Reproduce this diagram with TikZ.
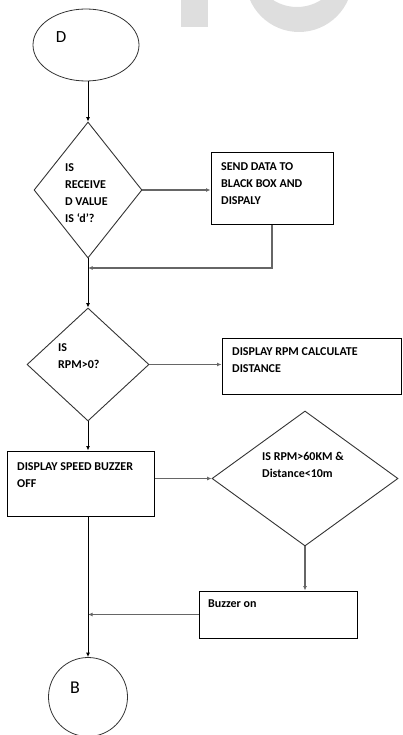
\documentclass[tikz,border=0pt]{standalone}
\usepackage{fontspec}
\setmainfont{Carlito}
\usetikzlibrary{arrows.meta,shapes.geometric}

\begin{document}
\begin{tikzpicture}[x=1pt,y=-1pt,>={Latex[length=4.5pt,width=4pt]},
  decision/.style={draw=black!80,diamond,inner sep=0pt,line width=0.9pt},
  procbox/.style={draw=black,line width=1pt,inner sep=0pt},
  txt/.style={anchor=north west,inner sep=0pt,align=left,font=\fontsize{12}{17}\selectfont\bfseries},
  flow/.style={->,line width=1pt,black},
  side/.style={->,line width=1.1pt,black!60}]
\useasboundingbox (0,0) rectangle (402,735);
% watermark
\fill[black!13,even odd rule] (299,-21.5) circle (53.5pt) (297,-37.6) circle (44.6pt);
\fill[black!13] (181,0) rectangle (208,27);
% shapes
\node[draw=black!80,ellipse,minimum width=106pt,minimum height=72pt,line width=0.8pt] (D) at (86,45) {};
\node[font=\fontsize{17}{17}\selectfont] (Dl) at (61,37) {D};
\node[decision,minimum width=108pt,minimum height=136pt] (d1) at (88,190) {};
\node[txt] (d1t) at (65,163) {IS\\RECEIVE\\D VALUE\\IS ‘d’?};
\node[procbox,minimum width=122pt,minimum height=71pt] (b1) at (272,188.5) {};
\node[txt] (b1t) at (221,162) {SEND DATA TO\\BLACK BOX AND\\DISPALY};
\node[decision,minimum width=122pt,minimum height=113pt] (d2) at (88,364.5) {};
\node[txt] (d2t) at (58,343) {IS\\RPM>0?};
\node[procbox,minimum width=179pt,minimum height=56pt] (b2) at (311.5,366) {};
\node[txt] (b2t) at (232,347) {DISPLAY RPM CALCULATE\\DISTANCE};
\node[procbox,minimum width=147pt,minimum height=65pt] (b3) at (80.5,483.5) {};
\node[txt] (b3t) at (17,462) {DISPLAY SPEED BUZZER\\OFF};
\node[decision,minimum width=186pt,minimum height=135pt] (d3) at (305,478.5) {};
\node[txt] (d3t) at (262,452) {IS RPM>60KM \&\\Distance<10m};
\node[procbox,minimum width=158pt,minimum height=47pt] (b4) at (278,614.5) {};
\node[txt] (b4t) at (208,600) {Buzzer on};
\node[draw=black!80,circle,minimum size=79pt,inner sep=0pt,line width=0.8pt] (B) at (88,697) {};
\node[font=\fontsize{18}{18}\selectfont] (Bl) at (75,688) {B};
% connectors
\draw[flow] (d1.north |- D.south) -- (d1.north);
\draw[side] (d1.east) -- (b1.west |- d1.east);
\coordinate (j1) at (d1.south |- 0,268);
\draw[side] (b1.south) |- (j1);
\draw[flow] (d1.south) -- (d2.north);
\draw[side] (d2.east) -- (b2.west |- d2.east);
\draw[flow] (d2.south) -- (d2.south |- b3.north);
\draw[side] (b3.east |- d3.west) -- (d3.west);
\draw[side] (d3.south) -- (d3.south |- b4.north);
\coordinate (j2) at (d2.south |- b4.west);
\draw[side] (b4.west) -- (j2);
\draw[flow] (d2.south |- b3.south) -- (B.north);
\end{tikzpicture}
\end{document}
